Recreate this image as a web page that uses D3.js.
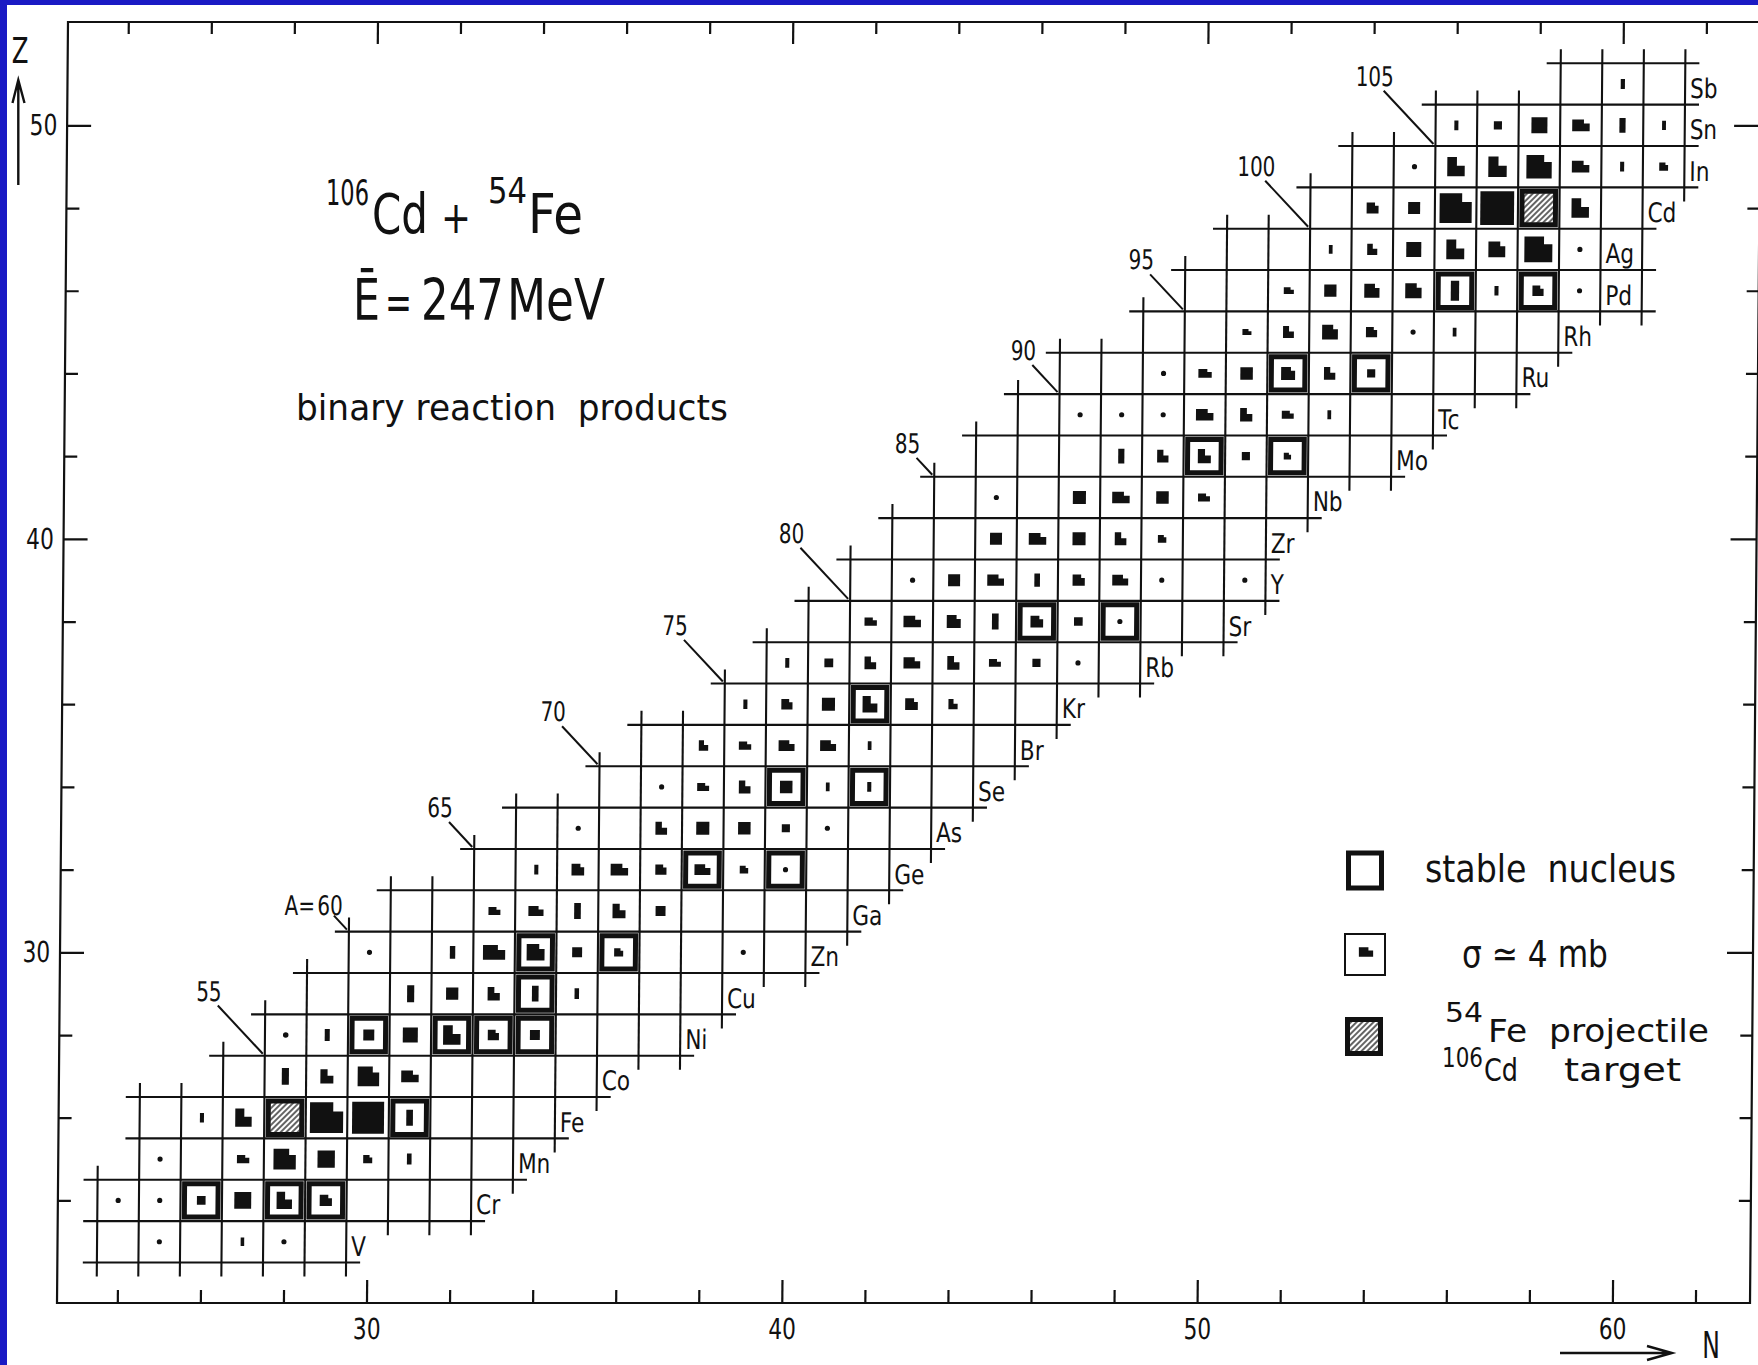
<!DOCTYPE html>
<html>
<head>
<meta charset="utf-8">
<script src="https://cdn.jsdelivr.net/npm/d3@7"></script>
<style>
  html, body { margin: 0; padding: 0; background: #1a1ac4; }
  svg { display: block; }
  text { font-family: "DejaVu Sans", "Liberation Sans", sans-serif; fill: #111; white-space: pre; }
</style>
</head>
<body>
<svg id="chart" width="1758" height="1365"></svg>
<script>
// ---- chart rows: proton number, element symbol, neutron-number span of the drawn cells
const rowZ        = [23, 24, 25, 26, 27, 28, 29, 30, 31, 32, 33, 34, 35, 36, 37, 38, 39, 40, 41, 42, 43, 44, 45, 46, 47, 48, 49, 50, 51];
const rowSymbol   = ["V","Cr","Mn","Fe","Co","Ni","Cu","Zn","Ga","Ge","As","Se","Br","Kr","Rb","Sr","Y","Zr","Nb","Mo","Tc","Ru","Rh","Pd","Ag","Cd","In","Sn","Sb"];
const rowNmin     = [24, 24, 25, 25, 27, 28, 29, 30, 31, 33, 34, 36, 37, 39, 40, 41, 42, 43, 44, 45, 46, 47, 49, 50, 51, 53, 54, 56, 59];
const rowNmax     = [29, 32, 33, 34, 35, 37, 38, 40, 41, 42, 43, 44, 45, 46, 48, 50, 51, 51, 52, 54, 55, 57, 58, 60, 60, 60, 61, 61, 61];
// last cell before the element symbol is written
const symbolAfterN = [29, 32, 33, 34, 35, 37, 38, 40, 41, 42, 43, 44, 45, 46, 48, 50, 51, 51, 52, 54, 55, 57, 58, 59, 59, 60, 61, 61, 61];

// ---- measured binary-reaction yields: [N, Z, sigma (mb), marker shape]
// shapes: d dot, b bar, s square, n notched square, L notched block, w wide notched block
const yields = [
  [25,23,0.7,"d"],[27,23,1.0,"b"],[28,23,0.7,"d"],
  [24,24,0.7,"d"],[25,24,0.7,"d"],[26,24,2.5,"s"],[27,24,9.5,"s"],[28,24,7,"L"],[29,24,4.2,"n"],
  [25,25,0.7,"d"],[27,25,3,"w"],[28,25,14,"n"],[29,25,10,"s"],[30,25,2.3,"n"],[31,25,1.7,"b"],
  [26,26,1.3,"b"],[27,26,8,"L"],[29,26,31,"n"],[30,26,34,"s"],[31,26,3.5,"b"],
  [28,27,4,"b"],[29,27,5,"L"],[30,27,13,"n"],[31,27,6,"w"],
  [28,28,0.8,"d"],[29,28,2,"b"],[30,28,4,"s"],[31,28,7.5,"s"],[32,28,9,"L"],[33,28,3.5,"n"],[34,28,3.3,"s"],
  [31,29,4,"b"],[32,29,5,"s"],[33,29,4.4,"L"],[34,29,3.5,"b"],[35,29,1.6,"b"],
  [30,30,0.7,"d"],[32,30,2.3,"b"],[33,30,9.7,"w"],[34,30,9,"n"],[35,30,3.3,"s"],[36,30,2.3,"n"],[39,30,0.7,"d"],
  [33,31,2.8,"w"],[34,31,4.5,"w"],[35,31,3.5,"b"],[36,31,5,"L"],[37,31,3.3,"s"],
  [34,32,1.3,"b"],[35,32,4.5,"n"],[36,32,6,"w"],[37,32,3.5,"n"],[38,32,5,"w"],[39,32,2,"n"],[40,32,0.7,"d"],
  [35,33,0.7,"d"],[37,33,4,"L"],[38,33,5.7,"s"],[39,33,5.2,"s"],[40,33,2.2,"s"],[41,33,0.7,"d"],
  [37,34,0.7,"d"],[38,34,2.8,"w"],[39,34,4,"L"],[40,34,5.2,"s"],[41,34,1.1,"b"],[42,34,1.3,"b"],
  [38,35,2.6,"L"],[39,35,3,"w"],[40,35,5,"w"],[41,35,5,"w"],[42,35,1.1,"b"],
  [39,36,1.3,"b"],[40,36,3.5,"n"],[41,36,5.7,"s"],[42,36,6.5,"L"],[43,36,4.5,"n"],[44,36,2.5,"L"],
  [40,37,1.3,"b"],[41,37,2.6,"s"],[42,37,4,"L"],[43,37,5.5,"w"],[44,37,4.4,"L"],[45,37,2.8,"w"],[46,37,2.2,"s"],[47,37,0.7,"d"],
  [42,38,3,"w"],[43,38,6,"w"],[44,38,5.5,"n"],[45,38,3.5,"b"],[46,38,4.5,"n"],[47,38,2.5,"s"],[48,38,0.7,"d"],
  [43,39,0.7,"d"],[44,39,4.8,"s"],[45,39,5.5,"w"],[46,39,2.5,"b"],[47,39,4.2,"n"],[48,39,5,"w"],[49,39,0.7,"d"],[51,39,0.7,"d"],
  [45,40,4.8,"s"],[46,40,6,"w"],[47,40,5.7,"s"],[48,40,4,"L"],[49,40,2,"n"],
  [45,41,0.7,"d"],[47,41,5.7,"s"],[48,41,6,"w"],[49,41,5.2,"s"],[50,41,2.8,"w"],
  [48,42,3,"b"],[49,42,3.8,"L"],[50,42,5,"L"],[51,42,2.2,"s"],[52,42,1.5,"n"],
  [47,43,0.7,"d"],[48,43,0.7,"d"],[49,43,0.7,"d"],[50,43,6,"w"],[51,43,4.4,"L"],[52,43,2.8,"w"],[53,43,1.1,"b"],
  [49,44,0.7,"d"],[50,44,3.5,"w"],[51,44,5.2,"s"],[52,44,5.5,"n"],[53,44,3.8,"L"],[54,44,2.2,"s"],
  [51,45,1.6,"w"],[52,45,3.5,"L"],[53,45,7,"n"],[54,45,3.5,"n"],[55,45,0.7,"d"],[56,45,1.1,"b"],
  [52,46,2,"w"],[53,46,5,"s"],[54,46,6.5,"n"],[55,46,7.5,"n"],[56,46,5.5,"b"],[57,46,1.3,"b"],[58,46,3.5,"n"],[59,46,0.7,"d"],
  [53,47,1.1,"b"],[54,47,3,"L"],[55,47,7.5,"s"],[56,47,9.5,"L"],[57,47,8,"n"],[58,47,22,"n"],[59,47,0.7,"d"],
  [54,48,4,"n"],[55,48,4.8,"s"],[56,48,29,"n"],[57,48,38,"s"],[59,48,9,"L"],
  [55,49,0.7,"d"],[56,49,9,"L"],[57,49,10,"L"],[58,49,18,"n"],[59,49,6,"w"],[60,49,1.3,"b"],[61,49,2.2,"n"],
  [56,50,1.3,"b"],[57,50,2.2,"s"],[58,50,8.5,"s"],[59,50,6,"w"],[60,50,3,"b"],[61,50,1.2,"b"],
  [60,51,1.4,"b"]
];

// ---- stable nuclei marked with a heavy frame: [N, Z]
const stableNuclei = [
  [26,24],[28,24],[29,24],[31,26],[30,28],[32,28],[33,28],[34,28],[34,29],[34,30],[36,30],
  [38,32],[40,32],[40,34],[42,34],[42,36],[46,38],[48,38],[50,42],[52,42],[52,44],[54,44],[56,46],[58,46]
];
// ---- projectile 54Fe and target 106Cd: [N, Z]
const beamNuclei = [[28,26],[58,48]];

// ---- isobar markers: mass number and the row whose cell (A-Z, Z) carries the tag
const isobarA   = [55, 60, 65, 70, 75, 80, 85, 90, 95, 100, 105];
const isobarRow = [27, 30, 32, 34, 36, 38, 41, 43, 45, 47, 49];

// ---- axis ticks
const nTicks = [24,26,28,30,32,34,36,38,40,42,44,46,48,50,52,54,56,58,60,62];
const nLabels = [30, 40, 50, 60];
const zTicks = [24,26,28,30,32,34,36,38,40,42,44,46,48,50];
const zLabels = [30, 40, 50];

// legend key cross-section (mb)
const keySigma = 4;

// =====================================================================
const W = 1758, H = 1365;
const svg = d3.select("#chart");

// slide mount and paper
svg.append("rect").attr("width", W).attr("height", H).attr("fill", "#1a1ac4");
svg.append("rect").attr("x", 7).attr("y", 5).attr("width", W - 7).attr("height", H - 5).attr("fill", "#fff");

const defs = svg.append("defs");
const hatch = defs.append("pattern").attr("id", "hatch")
  .attr("patternUnits", "userSpaceOnUse").attr("width", 4).attr("height", 4)
  .attr("patternTransform", "rotate(45)");
hatch.append("rect").attr("width", 4).attr("height", 4).attr("fill", "#fff");
hatch.append("line").attr("x1", 2).attr("y1", -1).attr("x2", 2).attr("y2", 5)
  .attr("stroke", "#111").attr("stroke-width", 1.3);

const frame = { left: 57, right: 1750, top: 22, bottom: 1303 };
const x = d3.scaleLinear().domain([24, 62]).range([117.3, 117.3 + 38 * 41.53]);
const y = d3.scaleLinear().domain([51.5, 22.5]).range([63.3, 63.3 + 29 * 41.35]);
const cw = x(1) - x(0), ch = y(0) - y(1);

// the drawing sits on the page with a slight lean
const lean = -Math.atan(11 / 1281) * 180 / Math.PI;
const g = svg.append("g")
  .attr("transform", `translate(0,${frame.bottom}) skewX(${lean}) translate(0,${-frame.bottom})`);

// narrow lettering: either a fixed horizontal squeeze or squeezed to a set width
function label(sel, x0, y0, str, size, opts = {}) {
  const t = sel.append("text").attr("font-size", size)
    .attr("text-anchor", opts.anchor || "start").text(str);
  let sx = opts.sx || 0.8;
  if (opts.len) sx = opts.len / t.node().getComputedTextLength();
  t.attr("transform", `translate(${x0},${y0}) scale(${sx},1)`);
  return t;
}

// ---- frame
g.append("rect").attr("x", frame.left).attr("y", frame.top)
  .attr("width", frame.right - frame.left).attr("height", frame.bottom - frame.top)
  .attr("fill", "none").attr("stroke", "#111").attr("stroke-width", 2.2);

function styleAxis(sel) {
  sel.select(".domain").remove();
  sel.selectAll(".tick line").attr("stroke", "#111").attr("stroke-width", 2.2);
  sel.selectAll(".tick text").attr("fill", "#111").attr("font-size", 29)
    .attr("font-family", "DejaVu Sans");
}
const minorN = nTicks.filter(n => n % 10 !== 0), majorN = nTicks.filter(n => n % 10 === 0);
const minorZ = zTicks.filter(z => z % 10 !== 0), majorZ = zTicks.filter(z => z % 10 === 0);

g.append("g").attr("transform", `translate(0,${frame.bottom})`)
  .call(d3.axisBottom(x).tickValues(minorN).tickSize(-13).tickFormat("")).call(styleAxis);
const bx = g.append("g").attr("transform", `translate(0,${frame.bottom})`)
  .call(d3.axisBottom(x).tickValues(majorN).tickSize(-23).tickPadding(15).tickFormat(d => nLabels.includes(d) ? d : ""))
  .call(styleAxis);
bx.selectAll(".tick text").attr("transform", "scale(0.75,1)");

g.append("g").attr("transform", `translate(0,${frame.top})`)
  .call(d3.axisTop(x).tickValues(minorN).tickSize(-12).tickFormat("")).call(styleAxis);
g.append("g").attr("transform", `translate(0,${frame.top})`)
  .call(d3.axisTop(x).tickValues(majorN).tickSize(-22).tickFormat("")).call(styleAxis);

g.append("g").attr("transform", `translate(${frame.left},0)`)
  .call(d3.axisLeft(y).tickValues(minorZ).tickSize(-13).tickFormat("")).call(styleAxis);
const ly = g.append("g").attr("transform", `translate(${frame.left},0)`)
  .call(d3.axisLeft(y).tickValues(majorZ).tickSize(-24).tickPadding(13).tickFormat(d => zLabels.includes(d) ? d : ""))
  .call(styleAxis);
ly.selectAll(".tick text").attr("transform", "scale(0.75,1)");

g.append("g").attr("transform", `translate(${frame.right},0)`)
  .call(d3.axisRight(y).tickValues(minorZ).tickSize(-12).tickFormat("")).call(styleAxis);
g.append("g").attr("transform", `translate(${frame.right},0)`)
  .call(d3.axisRight(y).tickValues(majorZ).tickSize(-26).tickFormat("")).call(styleAxis);

// ---- cell grid: each boundary runs over the cells on both sides plus a short overrun
const rows = rowZ.map((z, i) => ({ z, nmin: rowNmin[i], nmax: rowNmax[i], sym: rowSymbol[i], after: symbolAfterN[i] }));
const rowOf = new Map(rows.map(r => [r.z, r]));
const OH = 13;
const gridLines = [];
for (let zb = d3.min(rowZ) - 0.5; zb <= d3.max(rowZ) + 0.5; zb++) {
  const rs = [rowOf.get(zb - 0.5), rowOf.get(zb + 0.5)].filter(Boolean);
  if (!rs.length) continue;
  const a = d3.min(rs, r => r.nmin) - 0.5, b = d3.max(rs, r => r.nmax) + 0.5;
  gridLines.push([x(a) - OH, y(zb), x(b) + OH, y(zb)]);
}
const nLo = d3.min(rowNmin), nHi = d3.max(rowNmax);
for (let nb = nLo - 0.5; nb <= nHi + 0.5; nb++) {
  const zs = rows.filter(r => (r.nmin <= nb - 0.5 && nb - 0.5 <= r.nmax) || (r.nmin <= nb + 0.5 && nb + 0.5 <= r.nmax)).map(r => r.z);
  if (!zs.length) continue;
  const lo = d3.min(zs) - 0.5, hi = d3.max(zs) + 0.5;
  gridLines.push([x(nb), y(hi) - OH, x(nb), y(lo) + OH]);
}
g.append("g").selectAll("line").data(gridLines).join("line")
  .attr("x1", d => d[0]).attr("y1", d => d[1]).attr("x2", d => d[2]).attr("y2", d => d[3])
  .attr("stroke", "#111").attr("stroke-width", 2.1).attr("stroke-linecap", "square");

// ---- heavy frames for stable nuclei, hatched beam nuclei
function heavyFrame(sel, cx, cy, w, h) {
  sel.append("rect").attr("x", cx - w / 2 + 4).attr("y", cy - h / 2 + 4)
    .attr("width", w - 8).attr("height", h - 8)
    .attr("fill", "none").attr("stroke", "#111").attr("stroke-width", 5);
}
const frames = g.append("g");
stableNuclei.forEach(([n, z]) => heavyFrame(frames, x(n), y(z), cw, ch));
beamNuclei.forEach(([n, z]) => {
  frames.append("rect").attr("x", x(n) - cw / 2 + 6).attr("y", y(z) - ch / 2 + 6)
    .attr("width", cw - 12).attr("height", ch - 12).attr("fill", "url(#hatch)");
  heavyFrame(frames, x(n), y(z), cw, ch);
});

// ---- yield markers: area proportional to the cross-section
const area = d3.scaleLinear().domain([0, keySigma]).range([0, 120]);
const shapeSpec = {
  s: { a: 1.0, fw: 0, fh: 0 },
  b: { a: 0.42, fw: 0, fh: 0 },
  n: { a: 1.08, fw: 0.3, fh: 0.3 },
  L: { a: 0.9, fw: 0.45, fh: 0.45 },
  w: { a: 1.5, fw: 0.33, fh: 0.35 }
};
function markerPath(cx, cy, sigma, shape) {
  const A = area(sigma);
  const p = d3.path();
  if (shape === "d") {
    const r = Math.sqrt(A / Math.PI);
    p.moveTo(cx + r, cy); p.arc(cx, cy, r, 0, 2 * Math.PI); p.closePath();
    return p.toString();
  }
  const s = shapeSpec[shape];
  const h = Math.sqrt(A / (s.a * (1 - s.fw * s.fh)));
  const w = s.a * h;
  const x0 = cx - w / 2, x1 = cx + w / 2, y0 = cy - h / 2, y1 = cy + h / 2;
  const nw = s.fw * w, nh = s.fh * h;
  p.moveTo(x0, y0);
  if (nw > 0) { p.lineTo(x1 - nw, y0); p.lineTo(x1 - nw, y0 + nh); p.lineTo(x1, y0 + nh); }
  else p.lineTo(x1, y0);
  p.lineTo(x1, y1); p.lineTo(x0, y1); p.closePath();
  return p.toString();
}
g.append("g").selectAll("path").data(yields).join("path")
  .attr("d", d => markerPath(x(d[0]), y(d[1]), d[2], d[3]))
  .attr("fill", "#111");

// ---- element symbols at the end of each row
rows.forEach(r => label(g, x(r.after + 0.5) + 5, y(r.z) + 14, r.sym, 27, { sx: 0.8 }));

// ---- isobar tags with leaders to the cell corner
const leaderLen = { 55: 69, 60: 22, 65: 37, 70: 55, 75: 60, 80: 73, 85: 26, 90: 40, 95: 51, 100: 66, 105: 76 };
const dir = [0.687, 0.727];
isobarA.forEach((A, i) => {
  const z = isobarRow[i], n = A - z;
  const cx0 = x(n - 0.5), cy0 = y(z + 0.5);
  const L = leaderLen[A];
  const sx = cx0 - dir[0] * L, sy = cy0 - dir[1] * L;
  g.append("line").attr("x1", sx).attr("y1", sy).attr("x2", cx0 - 2).attr("y2", cy0 - 2)
    .attr("stroke", "#111").attr("stroke-width", 2);
  const tx = A === 60 ? sx - 4 : sx - 9, ty = A === 60 ? sy - 1 : sy - 5;
  label(g, tx, ty, String(A), 27, { sx: 0.74, anchor: "middle" });
  if (A === 60) label(g, tx - 15, ty, "A=", 27, { sx: 0.74, anchor: "end" });
});

// ---- axis names
label(svg, 20, 63, "Z", 36, { sx: 0.68, anchor: "middle" });
svg.append("path").attr("d", "M18.3,185 V81 M12.5,103 L18.3,80 L24.5,103")
  .attr("fill", "none").attr("stroke", "#111").attr("stroke-width", 2.4);
label(svg, 1711, 1358, "N", 38, { sx: 0.62, anchor: "middle" });
svg.append("path").attr("d", "M1560,1353 H1671 M1647,1346 L1672,1353 L1647,1360")
  .attr("fill", "none").attr("stroke", "#111").attr("stroke-width", 2.4);

// ---- reaction title
label(svg, 326, 205, "106", 36, { len: 43 });
label(svg, 372, 233, "Cd", 55, { len: 56 });
label(svg, 441, 233, "+", 44, { len: 30 });
label(svg, 488, 203, "54", 36, { len: 39 });
label(svg, 528, 233, "Fe", 55, { len: 55 });
label(svg, 353, 320, "Ē", 57, { len: 27 });
label(svg, 385, 320, "=", 50, { len: 27 });
label(svg, 421, 320, "247", 57, { len: 83 });
label(svg, 507, 320, "MeV", 57, { len: 98 });
label(svg, 296, 420, "binary reaction  products", 36, { len: 432 });

// ---- legend
const leg = svg.append("g");
heavyFrame(leg, 1365, 870.5, 41, 43);
label(leg, 1425, 882, "stable  nucleus", 37, { len: 251 });

leg.append("rect").attr("x", 1345).attr("y", 934).attr("width", 40).attr("height", 41)
  .attr("fill", "none").attr("stroke", "#111").attr("stroke-width", 2);
leg.append("path").attr("d", markerPath(1366, 952, keySigma, "w")).attr("fill", "#111");
label(leg, 1462, 967, "σ ≃ 4 mb", 38, { len: 146 });

leg.append("rect").attr("x", 1346).attr("y", 1018).attr("width", 37).attr("height", 38).attr("fill", "url(#hatch)");
heavyFrame(leg, 1364, 1036.5, 41, 42);
label(leg, 1445, 1022, "54", 26, { len: 38 });
label(leg, 1488, 1042, "Fe  projectile", 32.5, { len: 221 });
label(leg, 1442, 1067, "106", 26, { len: 41 });
label(leg, 1484, 1081, "Cd", 32.5, { len: 34 });
label(leg, 1564, 1081, "target", 32.5, { len: 117 });
</script>
</body>
</html>
